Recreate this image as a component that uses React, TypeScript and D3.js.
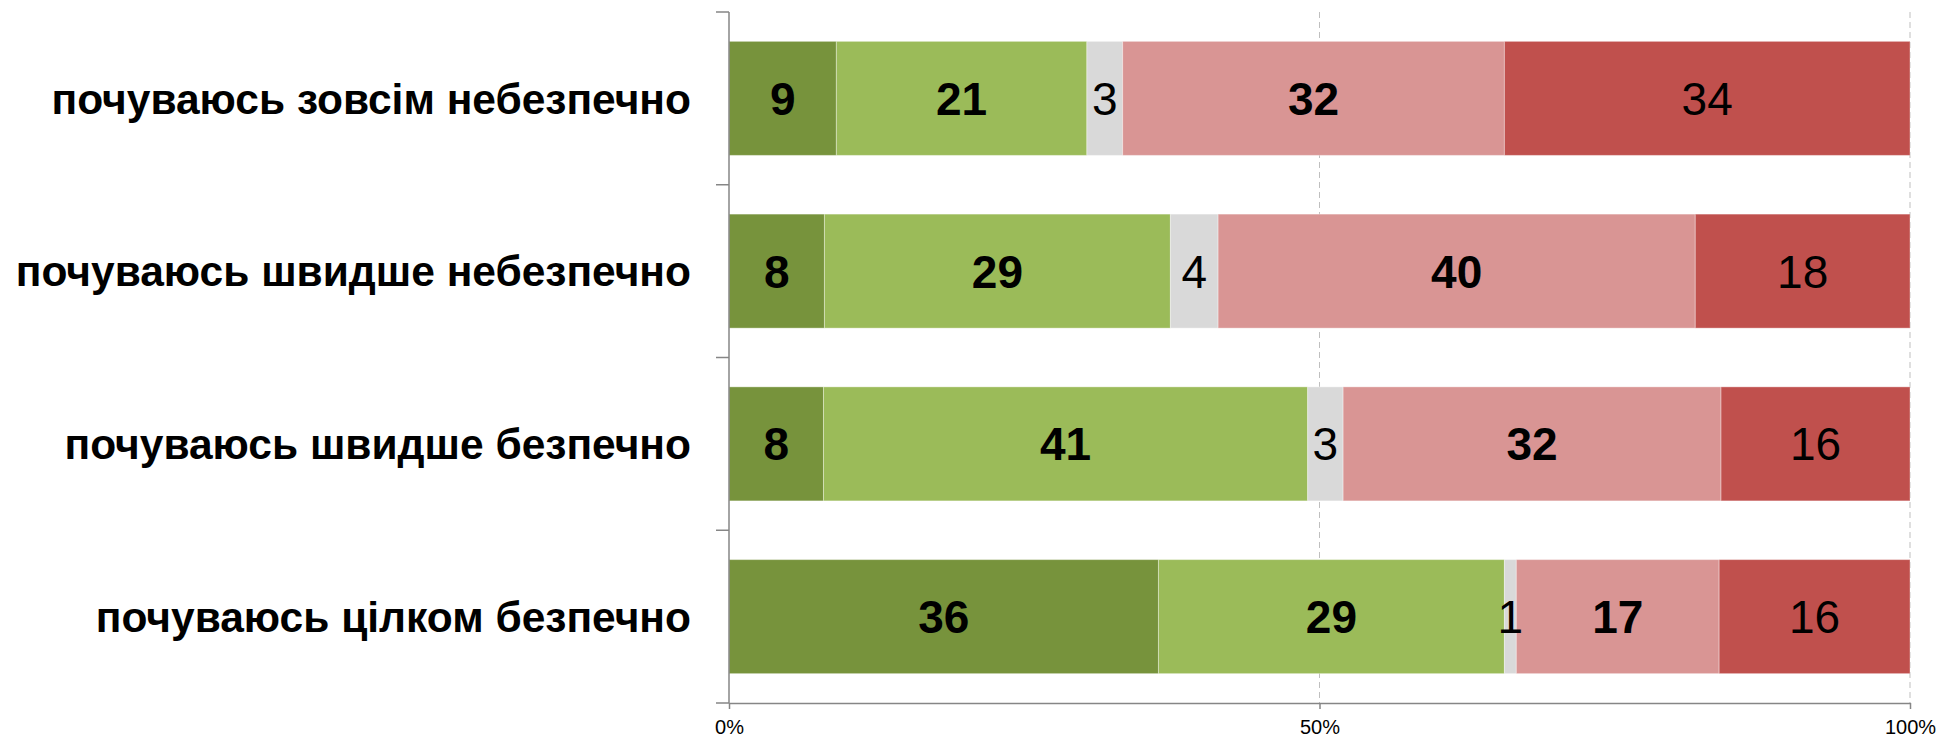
import React, { useEffect, useRef } from "react";
import * as d3 from "d3";

const categories = [
  "почуваюсь зовсім небезпечно",
  "почуваюсь швидше небезпечно",
  "почуваюсь швидше безпечно",
  "почуваюсь цілком безпечно",
];

const seriesKeys = ["s1", "s2", "s3", "s4", "s5"];
const seriesColors = ["#77933C", "#9BBB59", "#D9D9D9", "#D99594", "#C0504D"];
const seriesBold = [true, true, false, true, false];

const values = [
  [9, 21, 3, 32, 34],
  [8, 29, 4, 40, 18],
  [8, 41, 3, 32, 16],
  [36, 29, 1, 17, 16],
];

const tickValues = [0, 0.5, 1];
const tickLabels = ["0%", "50%", "100%"];

const App = () => {
  const svgRef = useRef<SVGSVGElement>(null);

  useEffect(() => {
    document.body.style.margin = "0";
    const width = 1959;
    const height = 740;
    const margin = { top: 12, right: 49, bottom: 37, left: 729 };

    const svg = d3.select(svgRef.current);
    svg.selectAll("*").remove();
    svg.attr("width", width).attr("height", height).style("display", "block");

    const x = d3
      .scaleLinear()
      .domain([0, 1])
      .range([margin.left, width - margin.right]);

    const y = d3
      .scaleBand()
      .domain(categories)
      .range([margin.top, height - margin.bottom])
      .paddingInner(0.34)
      .paddingOuter(0.17);

    const font = "'Liberation Sans', Arial, sans-serif";

    // gridlines
    svg
      .append("g")
      .selectAll("line")
      .data(tickValues.slice(1))
      .enter()
      .append("line")
      .attr("x1", (d) => x(d))
      .attr("x2", (d) => x(d))
      .attr("y1", margin.top)
      .attr("y2", height - margin.bottom)
      .attr("stroke", "#BFBFBF")
      .attr("stroke-width", 1)
      .attr("stroke-dasharray", "6,4");

    const rows = categories.map((c, i) => {
      const total = d3.sum(values[i]);
      let acc = 0;
      return values[i].map((v, j) => {
        const seg = { cat: c, key: seriesKeys[j], j, v, x0: acc / total, x1: (acc + v) / total };
        acc += v;
        return seg;
      });
    });
    const segs = rows.flat();

    svg
      .append("g")
      .selectAll("rect")
      .data(segs)
      .enter()
      .append("rect")
      .attr("x", (d) => x(d.x0))
      .attr("y", (d) => y(d.cat)!)
      .attr("width", (d) => x(d.x1) - x(d.x0))
      .attr("height", y.bandwidth())
      .attr("fill", (d) => seriesColors[d.j])
      .attr("stroke", "rgba(255,255,255,0.35)")
      .attr("stroke-width", 1);

    svg
      .append("g")
      .selectAll("text")
      .data(segs)
      .enter()
      .append("text")
      .attr("x", (d) => (x(d.x0) + x(d.x1)) / 2)
      .attr("y", (d) => y(d.cat)! + y.bandwidth() / 2)
      .attr("dy", "0.36em")
      .attr("text-anchor", "middle")
      .attr("font-family", font)
      .attr("font-size", 46)
      .attr("font-weight", (d) => (seriesBold[d.j] ? "bold" : "normal"))
      .attr("fill", "#000")
      .text((d) => d.v);

    // category labels
    svg
      .append("g")
      .selectAll("text")
      .data(categories)
      .enter()
      .append("text")
      .attr("x", 691)
      .attr("y", (d) => y(d)! + y.bandwidth() / 2)
      .attr("dy", "0.36em")
      .attr("text-anchor", "end")
      .attr("font-family", font)
      .attr("font-size", 42.5)
      .attr("font-weight", "bold")
      .attr("fill", "#000")
      .text((d) => d);

    // y axis
    const axisColor = "#868686";
    svg
      .append("line")
      .attr("x1", margin.left)
      .attr("x2", margin.left)
      .attr("y1", margin.top)
      .attr("y2", height - margin.bottom)
      .attr("stroke", axisColor)
      .attr("stroke-width", 1.5);

    const step = y.step();
    const boundaries = d3.range(categories.length + 1).map((i) => margin.top + i * step);
    svg
      .append("g")
      .selectAll("line")
      .data(boundaries)
      .enter()
      .append("line")
      .attr("x1", margin.left - 13)
      .attr("x2", margin.left)
      .attr("y1", (d) => d)
      .attr("y2", (d) => d)
      .attr("stroke", axisColor)
      .attr("stroke-width", 1.5);

    // x axis
    const xAxis = svg
      .append("g")
      .attr("transform", `translate(0,${height - margin.bottom})`)
      .call(
        d3
          .axisBottom(x)
          .tickValues(tickValues)
          .tickFormat((d, i) => tickLabels[i])
          .tickSizeInner(6)
          .tickSizeOuter(0)
          .tickPadding(11)
      );
    xAxis.select(".domain").attr("stroke", axisColor).attr("stroke-width", 1.5);
    xAxis.selectAll(".tick line").attr("stroke", axisColor).attr("stroke-width", 1.5);
    xAxis
      .selectAll(".tick text")
      .attr("font-family", font)
      .attr("font-size", 20)
      .attr("fill", "#000");
  }, []);

  return <svg ref={svgRef}></svg>;
};

export default App;
